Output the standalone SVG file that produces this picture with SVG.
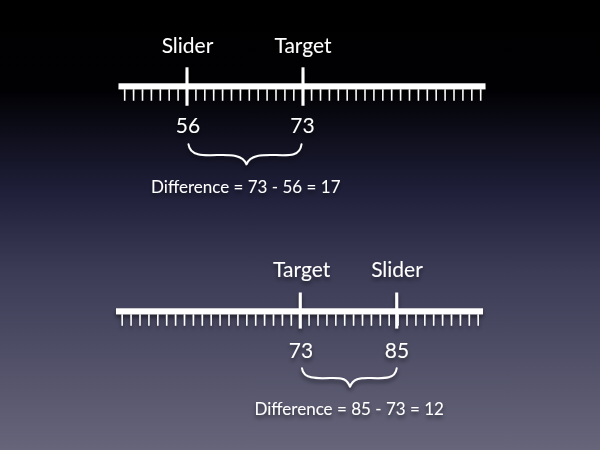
<svg xmlns="http://www.w3.org/2000/svg" width="600" height="450" viewBox="0 0 600 450">
  <defs>
    <linearGradient id="bg" x1="0" y1="0" x2="0" y2="1">
      <stop offset="0" stop-color="#000000"/>
      <stop offset="0.2" stop-color="#010104"/>
      <stop offset="0.42" stop-color="#1e1e38"/>
      <stop offset="0.6" stop-color="#3b3b56"/>
      <stop offset="1" stop-color="#66657a"/>
    </linearGradient>
    <filter id="sh" x="-20%" y="-50%" width="140%" height="200%">
      <feDropShadow dx="0" dy="3" stdDeviation="2" flood-color="#000" flood-opacity="0.55"/>
    </filter>
    <g id="ruler">
      <rect x="0" y="0" width="367" height="6" fill="#ffffff"/>
      <line x1="5.45" y1="11.75" x2="363" y2="11.75" stroke="#ffffff" stroke-width="11.5" stroke-dasharray="1.5 7.4"/>
    </g>
  </defs>
  <style>
    text { font-family: Lato, "Open Sans", "Liberation Sans", sans-serif; fill: #ffffff; text-anchor: middle; }
    .lbl { font-size: 21px; }
    .num { font-size: 21px; }
    .diff { font-size: 17px; }
    .mark { fill: #ffffff; }
    .brace { fill: none; stroke: #ffffff; stroke-width: 2; stroke-linecap: round; stroke-linejoin: round; }
  </style>
  <rect x="0" y="0" width="600" height="450" fill="url(#bg)"/>

  <g id="ruler-top" filter="url(#sh)">
    <use href="#ruler" x="118.5" y="83.3"/>
    <rect class="mark" x="185.5" y="67.3" width="3" height="38.4"/>
    <rect class="mark" x="301.5" y="67.3" width="3" height="38.4"/>
  </g>
  <g id="labels-top" filter="url(#sh)">
    <text class="lbl" x="187.5" y="52.7">Slider</text>
    <text class="lbl" x="303" y="52.7">Target</text>
    <text class="num" x="188" y="133.3">56</text>
    <text class="num" x="302.5" y="133.3">73</text>
  </g>
  <g id="diff-top" filter="url(#sh)">
    <path class="brace" d="M188.5,144.3 C190,156 203,155.5 217,155 C231,154.5 243,155 246.5,164.3 C250,155 262,154.5 276,155 C290,155.5 300,156 301.5,144.3"/>
    <text class="diff" x="245.8" y="192.8">Difference = 73 - 56 = 17</text>
  </g>

  <g id="ruler-bottom" filter="url(#sh)">
    <use href="#ruler" x="116" y="308.3"/>
    <rect class="mark" x="298.8" y="292.5" width="3" height="36"/>
    <rect class="mark" x="395.2" y="292.5" width="3" height="36"/>
  </g>
  <g id="labels-bottom" filter="url(#sh)">
    <text class="lbl" x="301.7" y="277.3">Target</text>
    <text class="lbl" x="397" y="277.3">Slider</text>
    <text class="num" x="301" y="358.3">73</text>
    <text class="num" x="397" y="358.3">85</text>
  </g>
  <g id="diff-bottom" filter="url(#sh)">
    <path class="brace" d="M302,368.3 C303.5,379 316,378.5 330,378 C343,377.5 347,379 350,386.7 C353,379 359,377.5 371,378 C385,378.5 395,379 396.7,368.3"/>
    <text class="diff" x="349.2" y="414.5">Difference = 85 - 73 = 12</text>
  </g>
</svg>
